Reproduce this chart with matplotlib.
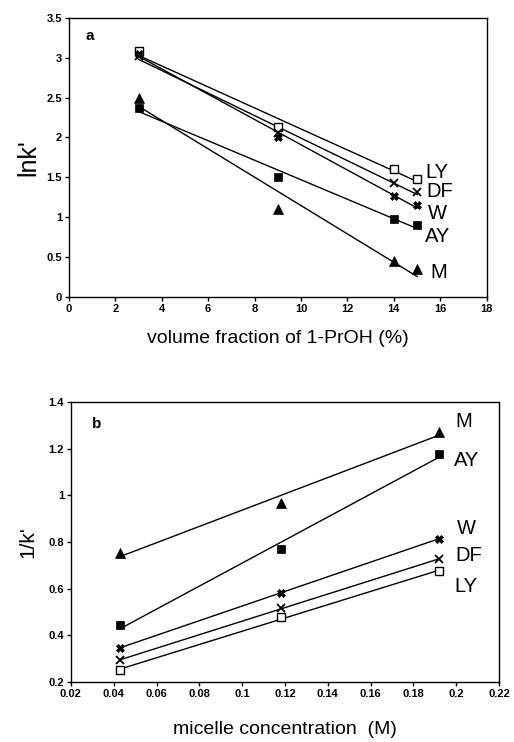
import numpy as np
import matplotlib.pyplot as plt

plt.rcParams['font.family'] = ['Liberation Sans', 'DejaVu Sans']

names = ['LY', 'DF', 'W', 'AY', 'M']

# panel a: ln k' vs volume fraction of 1-PrOH
prop = [3, 9, 14, 15]
lnk = {
    'LY': [3.08, 2.13, 1.60, 1.48],
    'DF': [3.02, 2.05, 1.43, 1.32],
    'W':  [3.05, 2.00, 1.27, 1.15],
    'AY': [2.37, 1.50, 0.98, 0.90],
    'M':  [2.50, 1.10, 0.45, 0.35],
}

# panel b: 1/k' vs micelle concentration
conc = [0.043, 0.118, 0.192]
inv_k = {
    'LY': [0.250, 0.479, 0.674],
    'DF': [0.293, 0.517, 0.726],
    'W':  [0.346, 0.583, 0.814],
    'AY': [0.443, 0.769, 1.179],
    'M':  [0.753, 0.969, 1.274],
}

markers = {
    'LY': dict(marker='s', mfc='white', mec='black', ms=5.5, mew=1.0),
    'DF': dict(marker='x', mfc='black', mec='black', ms=5.5, mew=1.3),
    'W':  dict(marker='X', mfc='black', mec='black', ms=5.5, mew=0.5),
    'AY': dict(marker='s', mfc='black', mec='black', ms=5.5, mew=0.5),
    'M':  dict(marker='^', mfc='black', mec='black', ms=7.5, mew=0.5),
}

label_pos_a = {'LY': (15.35, 1.56), 'DF': (15.4, 1.32), 'W': (15.45, 1.04),
               'AY': (15.35, 0.76), 'M': (15.55, 0.30)}
label_pos_b = {'M': (0.1994, 1.316), 'AY': (0.199, 1.151), 'W': (0.2004, 0.856),
               'DF': (0.1998, 0.744), 'LY': (0.199, 0.608)}

fig = plt.figure(figsize=(5.14, 7.42), dpi=100)
ax1 = fig.add_axes([0.134, 0.600, 0.813, 0.376])
ax2 = fig.add_axes([0.138, 0.081, 0.833, 0.377])


def draw(ax, x, data, labels):
    x = np.array(x, dtype=float)
    for n in names:
        y = np.array(data[n])
        k, b = np.polyfit(x, y, 1)
        xs = np.array([x[0], x[-1]])
        ax.plot(xs, k * xs + b, color='black', lw=1.0, zorder=2)
        ax.plot(x, y, ls='none', zorder=3, **markers[n])
        tx, ty = labels[n]
        ax.text(tx, ty, n, fontsize=14.5, ha='left', va='center')


draw(ax1, prop, lnk, label_pos_a)
draw(ax2, conc, inv_k, label_pos_b)

ax1.set_xlim(0, 18)
ax1.set_ylim(0, 3.5)
ax1.set_xticks(np.arange(0, 19, 2))
ax1.set_yticks(np.arange(0, 3.51, 0.5))
ax1.set_yticklabels(['0', '0.5', '1', '1.5', '2', '2.5', '3', '3.5'])
ax1.set_xlabel('volume fraction of 1-PrOH (%)', fontsize=14, labelpad=12)
ax1.set_ylabel("lnk'", fontsize=18, labelpad=4)
ax1.text(0.73, 3.27, 'a', fontsize=11, fontweight='bold', va='center')

ax2.set_xlim(0.02, 0.22)
ax2.set_ylim(0.2, 1.4)
xt = np.arange(0.02, 0.2201, 0.02)
ax2.set_xticks(xt)
ax2.set_xticklabels(['%g' % round(v, 2) for v in xt])
yt = np.arange(0.2, 1.401, 0.2)
ax2.set_yticks(yt)
ax2.set_yticklabels(['%g' % round(v, 1) for v in yt])
ax2.set_xlabel('micelle concentration  (M)', fontsize=14, labelpad=16)
ax2.set_ylabel("1/k'", fontsize=15, labelpad=8)
ax2.text(0.0297, 1.306, 'b', fontsize=11, fontweight='bold', va='center')

for ax in (ax1, ax2):
    ax.tick_params(direction='out', length=3, width=1, labelsize=8, pad=2)
    for lbl in ax.get_xticklabels() + ax.get_yticklabels():
        lbl.set_fontweight('bold')
    for s in ax.spines.values():
        s.set_linewidth(1.0)

fig.savefig('out.png', dpi=100)
